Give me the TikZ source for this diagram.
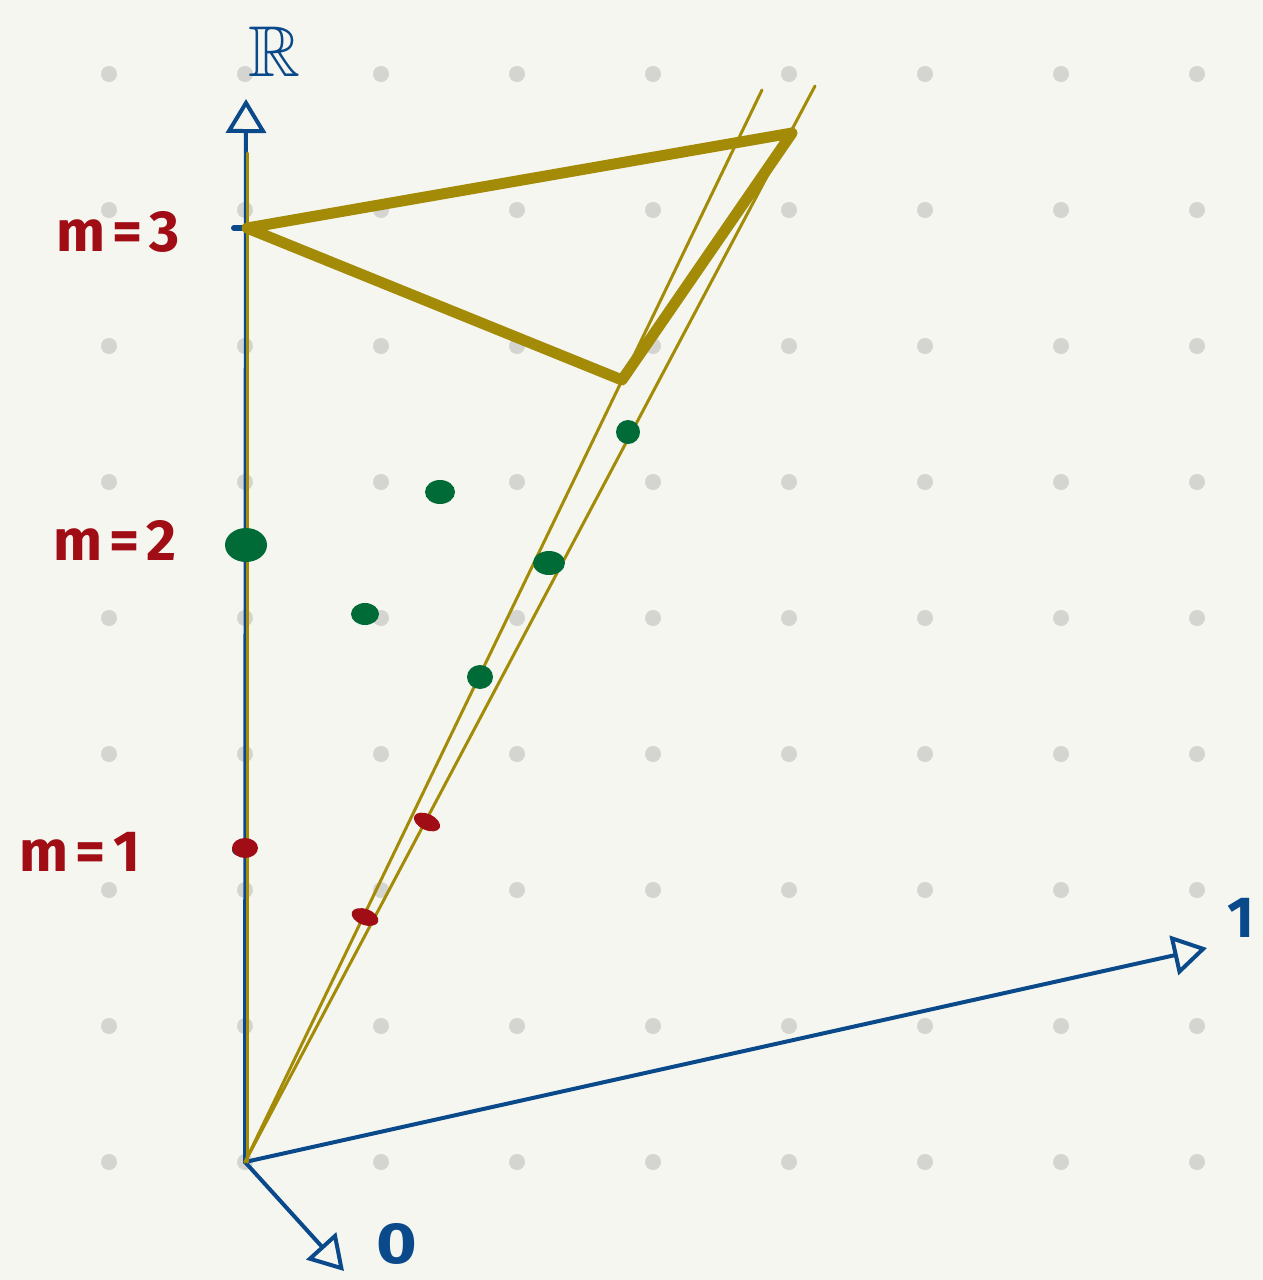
\documentclass[tikz,border=0pt]{standalone}
\usepackage{amssymb}
\usepackage{fontspec}
\setsansfont{Fira Sans}
\usetikzlibrary{arrows.meta}
\definecolor{bg}{HTML}{F6F6F1}
\definecolor{griddot}{HTML}{D4D4D0}
\definecolor{axblue}{HTML}{0B4A8A}
\definecolor{gold}{HTML}{A38B08}
\definecolor{mred}{HTML}{A10D14}
\definecolor{mgreen}{HTML}{006B36}
\tikzset{
  axis/.style={draw=axblue, line width=4pt, line cap=round,
    -{Triangle[open, length=34pt, width=40pt, line width=4pt]}},
  thinline/.style={draw=gold, line width=3pt, line cap=round},
  thickline/.style={draw=gold, line width=11pt, line join=round, line cap=round},
  lab/.style={text=mred, font=\sffamily\bfseries\fontsize{58}{58}\selectfont, inner sep=0pt},
  axlab/.style={text=axblue, font=\sffamily\bfseries\fontsize{58}{58}\selectfont, inner sep=0pt},
  gdot/.style={fill=mgreen},
  rdot/.style={fill=mred}
}
\begin{document}
\begin{tikzpicture}[x=1pt,y=-1pt]
\useasboundingbox (0,0) rectangle (1263,1280);
\fill[bg] (0,0) rectangle (1263,1280);
\foreach \x in {109,245,...,1197}
  \foreach \y in {74,210,...,1162}
    \fill[griddot] (\x,\y) circle[radius=8pt];
% coordinates
\coordinate (O) at (245,1162);
\coordinate (Rtip) at (246,99);
\coordinate (Etip) at (1207,948);
\coordinate (Ztip) at (344,1271);
\coordinate (Gtop) at (247,153);
\coordinate (Go) at (247,1162);
\coordinate (L1) at (762,90);
\coordinate (L2) at (815,86);
\coordinate (A) at (247,228);
\coordinate (B) at (792,133);
\coordinate (C) at (622,380);
\coordinate (tk) at (234,228);
% axes
\draw[axis] (O) -- (Rtip);
\draw[axis] (O) -- (Etip);
\draw[axis] (O) -- (Ztip);
\draw[draw=axblue, line width=6pt, line cap=round] (tk) -- (A);
% gold lines
\draw[thinline] (Go) -- (Gtop);
\draw[thinline] (O) -- (L1);
\draw[thinline] (O) -- (L2);
\draw[thickline] (A) -- (B) -- (C) -- cycle;
% dots
\fill[gdot] (246,545) ellipse[x radius=21pt, y radius=17pt];
\fill[gdot] (440,492) ellipse[x radius=15pt, y radius=12pt];
\fill[gdot] (365,614) ellipse[x radius=14pt, y radius=11pt];
\fill[gdot] (480,677) ellipse[x radius=13pt, y radius=12pt];
\fill[gdot] (549,563) ellipse[x radius=16pt, y radius=12pt];
\fill[gdot] (628,432) ellipse[x radius=12pt, y radius=12pt];
\fill[axblue] (240,850) ellipse[x radius=8pt, y radius=6pt];
\fill[rdot] (245,848) ellipse[x radius=13pt, y radius=10pt];
\fill[rdot, rotate around={-25:(427,822)}] (427,822) ellipse[x radius=14pt, y radius=8pt];
\fill[rdot, rotate around={-20:(365,917)}] (365,917) ellipse[x radius=14pt, y radius=8pt];
% labels
\node[lab] (m3) at (118,232) {m\kern7pt=\kern7pt3};
\node[lab] (m2) at (115,540) {m\kern7pt=\kern7pt2};
\node[lab] (m1) at (80,852) {m\kern7pt=\kern7pt1};
\node[axlab] (one) at (1241,918) {1};
\node[axlab, xscale=1.2] (zero) at (397,1244) {0};
\node[text=axblue, font=\fontsize{72}{72}\selectfont, inner sep=0pt] (R) at (274,52) {$\mathbb{R}$};
\end{tikzpicture}
\end{document}
